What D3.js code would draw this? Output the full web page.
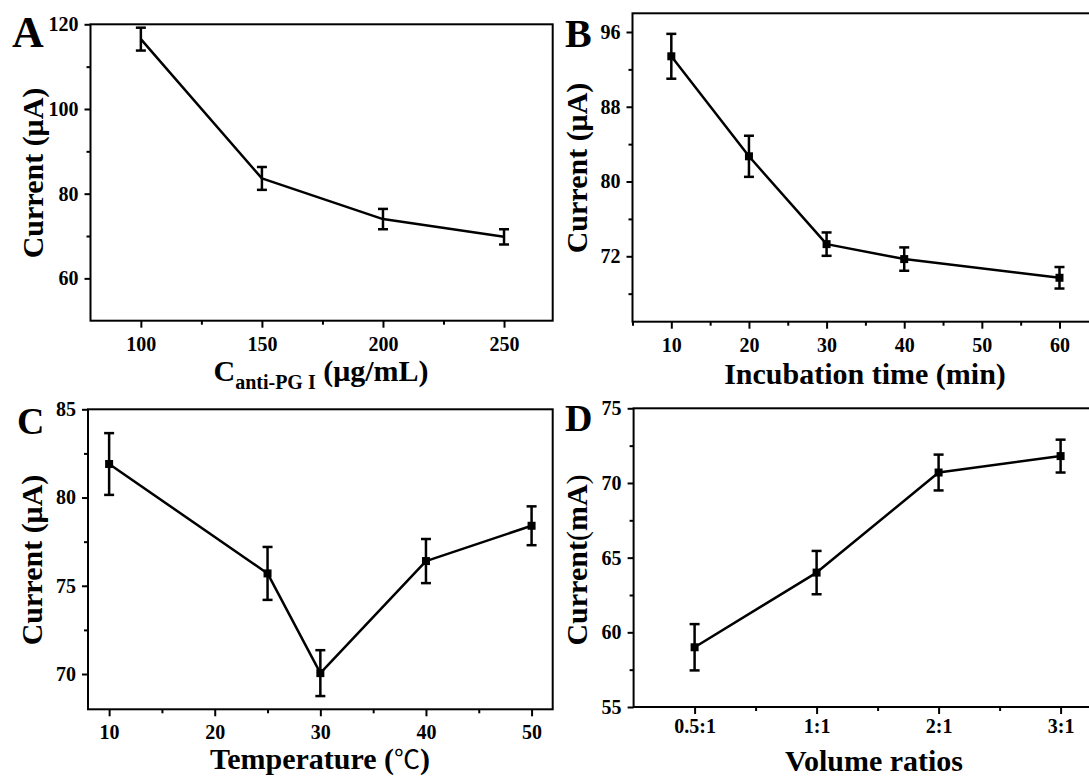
<!DOCTYPE html>
<html>
<head>
<meta charset="utf-8">
<script src="https://cdn.jsdelivr.net/npm/d3@7"></script>
<style>
  html, body { margin: 0; padding: 0; background: #fff; }
  svg { display: block; }
  text { font-family: "Liberation Serif", "Times New Roman", "Noto Sans CJK SC", serif; font-weight: bold; fill: #000; }
</style>
</head>
<body>
<svg id="chart" width="1089" height="778"></svg>
<script>
// ---------------- DATA ----------------
// Panel A: antibody concentration
const concA = [100, 150, 200, 250];
const currentA = [116.5, 83.6, 74.0, 69.8];
const errA = [2.7, 2.7, 2.4, 1.8];
const yTicksA = [60, 80, 100, 120];
const yMinorA = [70, 90, 110];
const xTicksA = [100, 150, 200, 250];
const xMinorA = [125, 175, 225];

// Panel B: incubation time
const timeB = [10, 20, 30, 40, 60];
const currentB = [93.4, 82.7, 73.3, 71.7, 69.7];
const errB = [2.4, 2.2, 1.25, 1.25, 1.15];
const yTicksB = [72, 80, 88, 96];
const yMinorB = [68, 76, 84, 92];
const xTicksB = [10, 20, 30, 40, 50, 60];
const xMinorB = [5, 15, 25, 35, 45, 55];

// Panel C: temperature
const tempC = [10, 25, 30, 40, 50];
const currentC = [81.9, 75.7, 70.05, 76.4, 78.4];
const errC = [1.75, 1.5, 1.3, 1.25, 1.1];
const yTicksC = [70, 75, 80, 85];
const yMinorC = [72.5, 77.5, 82.5];
const xTicksC = [10, 20, 30, 40, 50];
const xMinorC = [15, 25, 35, 45];

// Panel D: volume ratios
const ratioD = ["0.5:1", "1:1", "2:1", "3:1"];
const currentD = [59.0, 64.0, 70.7, 71.8];
const errD = [1.55, 1.45, 1.2, 1.1];
const yTicksD = [55, 60, 65, 70, 75];
const yMinorD = [57.5, 62.5, 67.5, 72.5];
const xMinorD = [1.5, 2.5, 3.5];

// ---------------- DRAWING ----------------
const svg = d3.select("#chart");

function panel(cfg) {
  const g = svg.append("g");
  const x = d3.scaleLinear().domain(cfg.xDomain).range(cfg.xRange);
  const y = d3.scaleLinear().domain(cfg.yDomain).range(cfg.yRange);

  // frame
  g.append("rect")
    .attr("x", cfg.xRange[0]).attr("y", cfg.yRange[1])
    .attr("width", cfg.xRange[1] - cfg.xRange[0])
    .attr("height", cfg.yRange[0] - cfg.yRange[1])
    .attr("fill", "none").attr("stroke", "#000").attr("stroke-width", 2);

  // y axis major
  const ya = g.append("g").attr("transform", `translate(${cfg.xRange[0]},0)`)
    .call(d3.axisLeft(y).tickValues(cfg.yTicks).tickSize(6).tickPadding(6).tickFormat(d3.format("")));
  // y axis minor
  const ym = g.append("g").attr("transform", `translate(${cfg.xRange[0]},0)`)
    .call(d3.axisLeft(y).tickValues(cfg.yMinor).tickSize(4).tickFormat(""));

  // x axis major
  let xAxis = d3.axisBottom(x).tickValues(cfg.xTicks).tickSize(7).tickPadding(cfg.xPad);
  if (cfg.xLabels) xAxis = xAxis.tickFormat((d, i) => cfg.xLabels[i]);
  else xAxis = xAxis.tickFormat(d3.format(""));
  const xa = g.append("g").attr("transform", `translate(0,${cfg.yRange[0]})`).call(xAxis);
  const xm = g.append("g").attr("transform", `translate(0,${cfg.yRange[0]})`)
    .call(d3.axisBottom(x).tickValues(cfg.xMinor).tickSize(4).tickFormat(""));

  [ya, ym, xa, xm].forEach(a => {
    a.select(".domain").remove();
    a.selectAll("line").attr("stroke", "#000").attr("stroke-width", 2);
    a.selectAll("text").attr("font-size", 20).attr("font-family", null).attr("fill", "#000");
  });

  // line
  const pts = cfg.xs.map((d, i) => [x(d), y(cfg.ys[i])]);
  g.append("path").attr("d", d3.line()(pts))
    .attr("fill", "none").attr("stroke", "#000").attr("stroke-width", 2.5)
    .attr("stroke-linejoin", "round");

  // error bars
  const eb = g.append("g").attr("stroke", "#000").attr("stroke-width", 2.5);
  cfg.xs.forEach((d, i) => {
    const cx = x(d), yt = y(cfg.ys[i] + cfg.errs[i]), yb = y(cfg.ys[i] - cfg.errs[i]);
    eb.append("line").attr("x1", cx).attr("x2", cx).attr("y1", yt).attr("y2", yb);
    eb.append("line").attr("x1", cx - 5).attr("x2", cx + 5).attr("y1", yt).attr("y2", yt);
    eb.append("line").attr("x1", cx - 5).attr("x2", cx + 5).attr("y1", yb).attr("y2", yb);
  });

  // markers
  if (cfg.markers) {
    g.append("g").selectAll("rect").data(cfg.xs).join("rect")
      .attr("x", d => x(d) - 4).attr("y", (d, i) => y(cfg.ys[i]) - 4)
      .attr("width", 8).attr("height", 8).attr("fill", "#000");
  }

  // panel letter
  g.append("text").attr("x", cfg.letterPos[0]).attr("y", cfg.letterPos[1])
    .attr("font-size", cfg.letterSize).text(cfg.letter);

  // y title
  const yt = g.append("text")
    .attr("transform", `translate(${cfg.yTitlePos[0]},${cfg.yTitlePos[1]}) rotate(-90)`)
    .attr("text-anchor", "middle").attr("font-size", 30);
  cfg.yTitle(yt);

  // x title
  const xt = g.append("text")
    .attr("x", cfg.xTitleX)
    .attr("y", cfg.xTitleY)
    .attr("text-anchor", "middle").attr("font-size", 30);
  cfg.xTitle(xt);
}

panel({
  xDomain: [79.2, 270.1], xRange: [90.5, 552.7],
  yDomain: [50, 120], yRange: [320.7, 24.3],
  yTicks: yTicksA, yMinor: yMinorA, xTicks: xTicksA, xMinor: xMinorA, xPad: 9,
  xs: concA, ys: currentA, errs: errA, markers: false,
  letter: "A", letterPos: [12, 47], letterSize: 44,
  yTitlePos: [43, 173],
  yTitle: t => t.text("Current (μA)"),
  xTitleX: 321, xTitleY: 381,
  xTitle: t => {
    t.append("tspan").text("C");
    t.append("tspan").attr("font-size", 20).attr("dy", 8).text("anti-PG I");
    t.append("tspan").attr("dy", -8).text(" (μg/mL)");
  }
});

panel({
  xDomain: [5, 65], xRange: [632.5, 1098.3],
  yDomain: [65, 98], yRange: [321.7, 13.3],
  yTicks: yTicksB, yMinor: yMinorB, xTicks: xTicksB, xMinor: xMinorB, xPad: 9,
  xs: timeB, ys: currentB, errs: errB, markers: true,
  letter: "B", letterPos: [565, 47], letterSize: 40,
  yTitlePos: [587, 168],
  yTitle: t => t.text("Current (μA)"),
  xTitleX: 865, xTitleY: 384,
  xTitle: t => t.text("Incubation time (min)")
});

panel({
  xDomain: [8, 52], xRange: [88, 552.7],
  yDomain: [68, 85], yRange: [709.3, 409.3],
  yTicks: yTicksC, yMinor: yMinorC, xTicks: xTicksC, xMinor: xMinorC, xPad: 9,
  xs: tempC, ys: currentC, errs: errC, markers: true,
  letter: "C", letterPos: [17, 434], letterSize: 38,
  yTitlePos: [42, 560],
  yTitle: t => t.text("Current (μA)"),
  xTitleX: 320, xTitleY: 769,
  xTitle: t => {
    t.append("tspan").text("Temperature (");
    t.append("tspan").attr("font-weight", "normal").attr("font-size", 26).text("℃");
    t.append("tspan").text(")");
  }
});

panel({
  xDomain: [0.5, 4.5], xRange: [633.6, 1121.6],
  yDomain: [55, 75], yRange: [707, 408.3],
  yTicks: yTicksD, yMinor: yMinorD, xTicks: [1, 2, 3, 4], xLabels: ratioD, xMinor: xMinorD, xPad: 5,
  xs: [1, 2, 3, 4], ys: currentD, errs: errD, markers: true,
  letter: "D", letterPos: [565, 431], letterSize: 38,
  yTitlePos: [587, 560],
  yTitle: t => {
    t.append("tspan").text("Current");
    t.append("tspan").attr("font-weight", "normal").text("(");
    t.append("tspan").text("mA");
    t.append("tspan").attr("font-weight", "normal").text(")");
  },
  xTitleX: 874, xTitleY: 771,
  xTitle: t => t.text("Volume ratios")
});
</script>
</body>
</html>
